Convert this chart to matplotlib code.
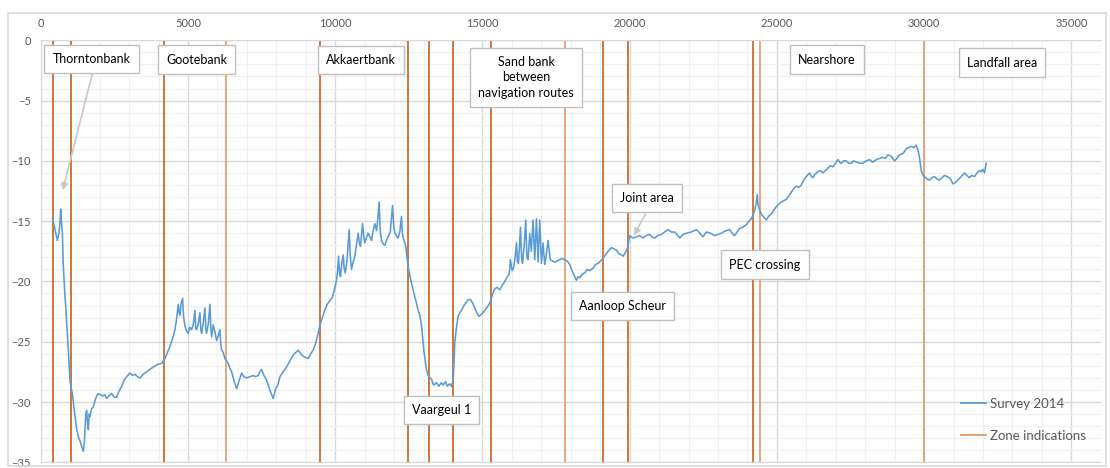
import matplotlib
matplotlib.use("Agg")
from matplotlib import pyplot as plt
from matplotlib.lines import Line2D
import matplotlib.patches as patches

plt.rcParams['font.family'] = ['Lato', 'DejaVu Sans']

# Survey 2014 profile: distance (m) and depth (m)
dist = [400, 450, 485, 530, 565, 600, 620, 650, 679, 700, 735, 768, 800, 825, 860, 882, 910, 938, 965, 994,
        1030, 1073, 1120, 1164, 1220, 1277, 1330, 1391, 1447, 1480, 1503, 1530, 1560, 1590, 1617, 1645, 1673, 1720, 1786, 1840,
        1899, 1950, 2012, 2100, 2170, 2240, 2320, 2410, 2500, 2579, 2660, 2749, 2830, 2919, 3031, 3120, 3201, 3290, 3370, 3480,
        3598, 3700, 3822, 3950, 4107, 4218, 4300, 4388, 4470, 4558, 4620, 4670, 4700, 4728, 4770, 4819, 4850, 4898, 4950, 5010,
        5060, 5123, 5180, 5237, 5265, 5294, 5350, 5407, 5435, 5464, 5520, 5576, 5605, 5634, 5690, 5746, 5775, 5803, 5858, 5915,
        5973, 6030, 6085, 6115, 6143, 6200, 6255, 6310, 6367, 6420, 6483, 6570, 6652, 6740, 6822, 6900, 6992, 7104, 7216, 7300,
        7386, 7440, 7501, 7580, 7670, 7780, 7894, 7980, 8064, 8122, 8230, 8349, 8460, 8573, 8660, 8743, 8830, 8913, 9000, 9083,
        9170, 9252, 9340, 9422, 9480, 9537, 9630, 9727, 9820, 9910, 9980, 10046, 10080, 10114, 10150, 10182, 10230, 10270, 10305, 10340,
        10400, 10474, 10510, 10553, 10610, 10667, 10720, 10779, 10820, 10860, 10929, 10970, 11006, 11060, 11120, 11180, 11234, 11290, 11346, 11405,
        11450, 11492, 11530, 11573, 11630, 11686, 11740, 11797, 11870, 11947, 11990, 12025, 12080, 12137, 12200, 12252, 12280, 12310, 12360, 12398,
        12476, 12560, 12646, 12730, 12816, 12873, 12931, 13009, 13060, 13101, 13160, 13213, 13270, 13340, 13440, 13520, 13600, 13664, 13750, 13800,
        13892, 13950, 14004, 14030, 14061, 14120, 14173, 14230, 14289, 14370, 14459, 14520, 14594, 14670, 14740, 14810, 14886, 14980, 15080, 15170,
        15250, 15340, 15420, 15500, 15589, 15680, 15759, 15871, 15910, 15952, 16010, 16065, 16110, 16156, 16190, 16225, 16260, 16292, 16330, 16360,
        16420, 16471, 16510, 16550, 16607, 16660, 16719, 16777, 16834, 16890, 16946, 17003, 17058, 17115, 17170, 17228, 17307, 17380, 17455, 17540,
        17625, 17710, 17795, 17880, 17965, 18076, 18191, 18250, 18304, 18390, 18474, 18560, 18643, 18755, 18840, 18925, 19010, 19095, 19150, 19211,
        19300, 19380, 19470, 19550, 19640, 19720, 19780, 19833, 19900, 19944, 20001, 20110, 20228, 20340, 20452, 20560, 20680, 20760, 20849, 20960,
        21077, 21190, 21301, 21410, 21528, 21610, 21698, 21810, 21926, 22090, 22265, 22380, 22489, 22604, 22750, 22886, 23000, 23113, 23250, 23395,
        23480, 23564, 23650, 23734, 23850, 23962, 24050, 24132, 24190, 24243, 24300, 24335, 24360, 24392, 24470, 24560, 24640, 24720, 24810, 24890,
        24980, 25060, 25149, 25230, 25319, 25400, 25489, 25570, 25659, 25740, 25828, 25910, 25998, 26110, 26170, 26223, 26300, 26393, 26480, 26562,
        26650, 26732, 26820, 26901, 26990, 27071, 27130, 27186, 27270, 27356, 27440, 27525, 27610, 27695, 27810, 27919, 28030, 28146, 28260, 28373,
        28490, 28598, 28680, 28768, 28880, 28995, 29080, 29165, 29277, 29340, 29392, 29480, 29562, 29650, 29731, 29800, 29843, 29901, 29960, 30013,
        30100, 30183, 30270, 30353, 30440, 30522, 30610, 30692, 30780, 30862, 30920, 30974, 31060, 31144, 31260, 31370, 31450, 31540, 31620, 31710,
        31800, 31880, 31940, 31993, 32050, 32107]
depth = [-14.8, -15.3, -15.7, -16.2, -16.6, -16.2, -16.0, -15.2, -14.0, -15.0, -16.0, -18.8, -20.2, -21.3, -22.5, -23.5, -24.6, -25.7, -27.0, -28.2,
         -28.8, -29.3, -30.3, -31.2, -32.2, -32.9, -33.2, -33.7, -34.1, -33.4, -32.3, -31.0, -30.7, -31.8, -32.3, -31.0, -31.2, -30.6, -30.4, -29.9,
         -29.5, -29.3, -29.4, -29.5, -29.4, -29.7, -29.5, -29.3, -29.6, -29.6, -29.1, -28.7, -28.2, -27.9, -27.6, -27.8, -27.7, -27.9, -28.0, -27.7,
         -27.5, -27.3, -27.1, -26.9, -26.8, -26.4, -25.9, -25.4, -24.8, -24.0, -23.0, -21.9, -22.6, -22.8, -21.8, -21.4, -22.9, -23.7, -24.1, -24.3,
         -23.8, -24.0, -23.6, -22.4, -23.9, -24.0, -23.5, -22.6, -24.0, -24.3, -23.4, -22.2, -23.9, -24.3, -23.5, -21.9, -23.8, -24.6, -23.6, -24.2,
         -24.9, -24.5, -24.0, -25.2, -25.7, -25.9, -26.4, -26.6, -26.8, -27.2, -27.5, -28.3, -28.9, -28.2, -27.6, -27.9, -28.0, -27.9, -27.8, -27.9,
         -27.8, -27.5, -27.3, -27.8, -28.2, -29.0, -29.7, -28.9, -28.5, -27.9, -27.5, -27.1, -26.6, -26.1, -25.9, -25.7, -26.0, -26.2, -26.3, -26.4,
         -26.0, -25.7, -25.1, -24.3, -23.6, -23.2, -22.5, -21.9, -21.6, -21.3, -20.6, -19.9, -19.1, -17.9, -19.4, -19.6, -18.4, -17.8, -18.9, -19.3,
         -18.3, -15.7, -17.8, -19.0, -18.4, -17.9, -17.0, -16.0, -16.8, -17.1, -15.2, -16.3, -16.8, -16.4, -16.0, -16.3, -16.6, -15.8, -15.2, -15.8,
         -14.8, -13.4, -15.8, -16.6, -16.9, -17.0, -16.6, -16.3, -15.9, -13.7, -15.5, -16.0, -16.2, -16.4, -15.8, -14.6, -16.0, -16.4, -16.8, -17.1,
         -18.8, -19.8, -20.7, -21.5, -22.4, -22.8, -23.6, -25.7, -26.6, -27.3, -27.8, -28.0, -28.1, -28.6, -28.4, -28.7, -28.4, -28.6, -28.3, -28.7,
         -28.5, -28.7, -28.2, -27.0, -25.1, -23.8, -22.9, -22.6, -22.4, -22.0, -21.7, -21.5, -21.5, -21.8, -22.2, -22.6, -22.9, -22.7, -22.4, -22.1,
         -21.8, -21.1, -20.6, -20.5, -20.7, -20.3, -20.0, -19.5, -19.4, -18.2, -19.1, -18.8, -18.0, -16.8, -18.4, -18.5, -17.0, -15.5, -18.0, -18.5,
         -17.0, -14.9, -18.0, -18.2, -16.0, -17.5, -14.9, -18.2, -14.8, -18.4, -14.9, -18.5, -16.8, -18.6, -17.8, -16.6, -18.2, -18.3, -18.4, -18.3,
         -18.2, -18.1, -18.2, -18.3, -18.6, -19.3, -19.9, -19.6, -19.7, -19.4, -19.3, -19.0, -19.1, -18.9, -18.6, -18.5, -18.3, -18.1, -17.9, -17.7,
         -17.4, -17.2, -17.3, -17.4, -17.7, -17.8, -17.9, -17.7, -17.4, -17.1, -16.2, -16.4, -16.3, -16.2, -16.4, -16.2, -16.1, -16.3, -16.4, -16.2,
         -16.1, -15.9, -15.7, -15.9, -15.9, -16.1, -16.4, -16.1, -16.0, -15.9, -15.7, -16.0, -16.3, -15.9, -16.0, -16.2, -16.1, -16.0, -15.8, -15.7,
         -16.0, -16.2, -15.9, -15.6, -15.5, -15.3, -15.0, -14.8, -14.5, -14.1, -13.5, -12.8, -13.6, -13.9, -14.4, -14.7, -14.9, -14.6, -14.4, -14.1,
         -13.8, -13.6, -13.4, -13.3, -13.2, -12.9, -12.6, -12.3, -12.1, -12.2, -12.0, -11.6, -11.3, -11.0, -11.3, -11.4, -11.1, -10.9, -10.8, -11.0,
         -10.8, -10.6, -10.4, -10.5, -10.2, -9.9, -10.1, -10.2, -10.0, -10.0, -10.2, -10.2, -10.0, -10.1, -10.2, -10.2, -10.0, -9.9, -10.1, -9.9,
         -9.8, -9.7, -9.8, -9.5, -9.6, -10.0, -9.8, -9.5, -9.4, -9.2, -9.0, -8.9, -8.8, -8.9, -8.7, -9.2, -9.7, -10.8, -11.2, -11.3,
         -11.5, -11.6, -11.4, -11.3, -11.5, -11.6, -11.4, -11.2, -11.3, -11.4, -11.6, -11.9, -11.8, -11.6, -11.3, -11.0, -11.2, -11.4, -11.2, -11.3,
         -11.0, -10.8, -10.9, -10.7, -11.0, -10.2]

# zone boundaries (m)
zone_x = [400, 1040, 4200, 6300, 9500, 12480, 13170, 14000, 15275, 17800, 19090, 19950, 24190, 24440, 30000]
zone_light = [6300, 17800, 24440, 30000]

# zone labels: text, x, y
labels = ["Thorntonbank", "Gootebank", "Akkaertbank", "Sand bank\nbetween\nnavigation routes",
          "Joint area", "Nearshore", "Landfall area", "Vaargeul 1", "Aanloop Scheur", "PEC crossing"]
label_x = [1724, 5288, 10871, 16488, 20595, 26704, 32643, 13603, 19746, 24600]
label_y = [-1.55, -1.6, -1.65, -3.08, -13.1, -1.6, -1.85, -30.66, -22.03, -18.6]

blue = '#5B9BD5'
dark_orange = '#C9601A'
light_orange = '#E39A67'
grey_txt = '#595959'

fig = plt.figure(figsize=(11.1, 4.68), dpi=100)
ax = fig.add_axes([0.0367, 0.0122, 0.955, 0.9017])

# outer chart frame
fig.patches.append(patches.Rectangle((0.0072, 0.004), 0.9892, 0.968, transform=fig.transFigure,
                                     fill=False, edgecolor='#D9D9D9', linewidth=1.2))

for xv in zone_x:
    c = light_orange if xv in zone_light else dark_orange
    ax.axvline(xv, color=c, linewidth=1.2, zorder=2)

ax.plot(dist, depth, color=blue, linewidth=1.15, zorder=3)

ax.set_xlim(0, 36000)
ax.set_ylim(-35, 0)
ax.set_xticks(range(0, 35001, 5000))
ax.set_xticks(range(0, 36001, 1000), minor=True)
ax.set_yticks(range(-35, 1, 5))
ax.set_yticks(range(-35, 1, 1), minor=True)
ax.xaxis.tick_top()
ax.tick_params(axis='both', which='both', length=0, labelsize=8, labelcolor=grey_txt)
ax.tick_params(axis='x', pad=8)
ax.tick_params(axis='y', pad=7)
ax.grid(which='major', color='#D9D9D9', linewidth=1.0, zorder=0)
ax.grid(which='minor', color='#F0F0F0', linewidth=0.9, zorder=0)
ax.set_axisbelow(True)
ax.spines['right'].set_visible(False)
for s in ['top', 'left', 'bottom']:
    ax.spines[s].set_color('#D9D9D9')

# arrows
ax.annotate('', xy=(723, -12.66), xytext=(1775, -2.55),
            arrowprops=dict(arrowstyle='-|>', color='#C8C8C8', lw=1.2, mutation_scale=10), zorder=4)
ax.annotate('', xy=(20105, -16.4), xytext=(20580, -14.2),
            arrowprops=dict(arrowstyle='-|>', color='#C8C8C8', lw=1.2, mutation_scale=10), zorder=4)

for t, xv, yv in zip(labels, label_x, label_y):
    ax.text(xv, yv, t, ha='center', va='center', fontsize=9, color='black', linespacing=1.35, zorder=5,
            bbox=dict(boxstyle='square,pad=0.65', facecolor='white', edgecolor='#BFBFBF', linewidth=1.0))

handles = [Line2D([], [], color=blue, linewidth=1.3), Line2D([], [], color=light_orange, linewidth=1.3)]
leg = ax.legend(handles, ["Survey 2014", "Zone indications"], loc='lower right', bbox_to_anchor=(0.997, 0.02),
                frameon=False, fontsize=9.5, handlelength=1.9, handletextpad=0.3, labelspacing=1.55)
for txt in leg.get_texts():
    txt.set_color(grey_txt)

fig.savefig('out.png', dpi=100)
